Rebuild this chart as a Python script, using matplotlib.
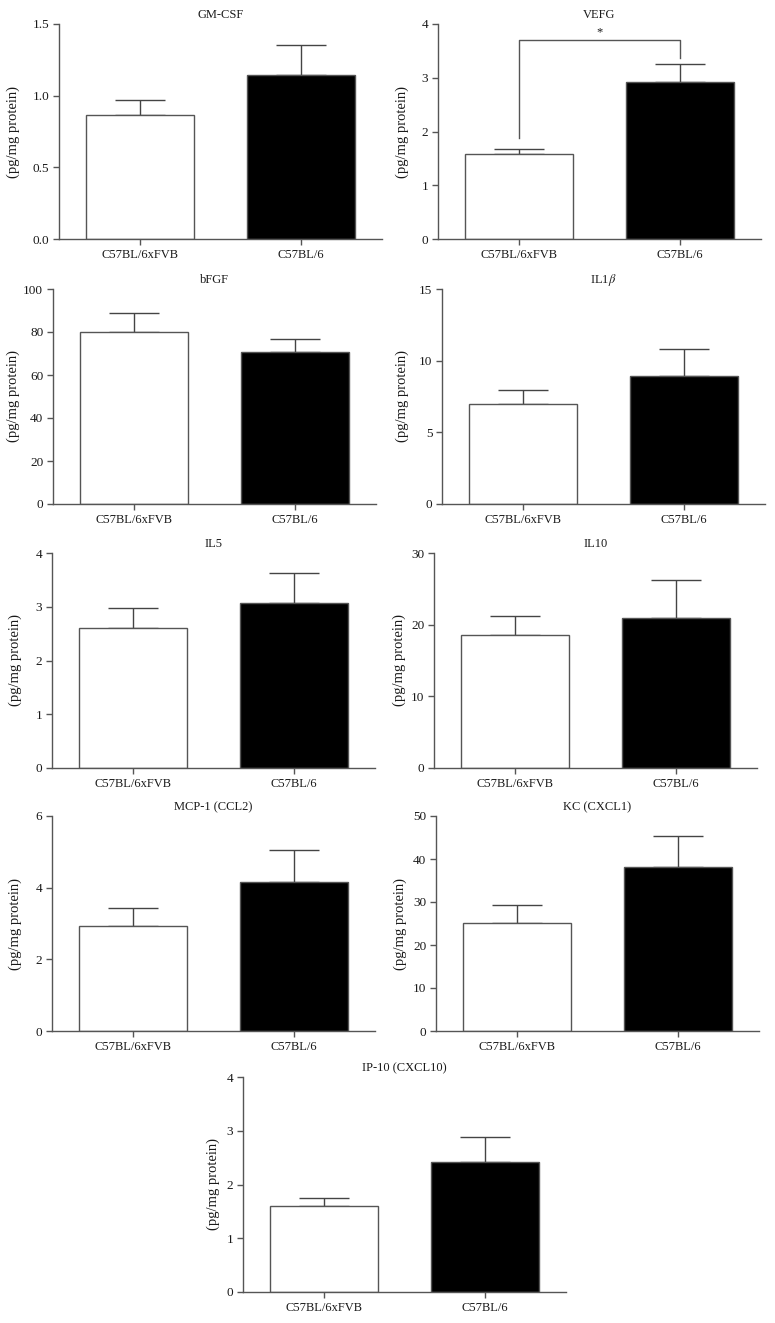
import numpy as np
import matplotlib
matplotlib.use('Agg')
import matplotlib.pyplot as plt

plt.rcParams['font.family'] = ['Liberation Serif', 'DejaVu Serif']
plt.rcParams['mathtext.fontset'] = 'stix'

groups = ['C57BL/6xFVB', 'C57BL/6']
titles = ['GM-CSF', 'VEFG', 'bFGF', r'IL1$\beta$', 'IL5', 'IL10',
          'MCP-1 (CCL2)', 'KC (CXCL1)', 'IP-10 (CXCL10)']

# mean and upper error (mean + SEM)
means = [[0.867, 1.142], [1.58, 2.92], [80.0, 70.8], [6.95, 8.92], [2.60, 3.07],
         [18.55, 20.87], [2.93, 4.15], [25.1, 38.2], [1.60, 2.41]]
tops = [[0.972, 1.356], [1.68, 3.25], [88.9, 76.8], [7.95, 10.78], [2.98, 3.62],
        [21.2, 26.26], [3.42, 5.04], [29.2, 45.3], [1.74, 2.88]]
yticks = [[0, 0.5, 1.0, 1.5], [0, 1, 2, 3, 4], [0, 20, 40, 60, 80, 100], [0, 5, 10, 15],
          [0, 1, 2, 3, 4], [0, 10, 20, 30], [0, 2, 4, 6], [0, 10, 20, 30, 40, 50],
          [0, 1, 2, 3, 4]]

# VEFG significance bracket
sig_y = 3.70
sig_legs = [1.88, 3.36]

W, H = 775, 1323
fig = plt.figure(figsize=(W / 100, H / 100), dpi=100)

# layout in pixels: spine x, top y, right edge of the y label
lefts = [59, 438, 53, 442, 52, 434, 52, 436, 243]
row_tops = [24, 289, 553, 816, 1077]
rows = [0, 0, 1, 1, 2, 2, 3, 3, 4]
label_x = [20, 409, 20, 409, 22, 406, 22, 407, 220]
ax_w, ax_h = 323, 215

axcol = '#555555'
txtcol = '#1a1a1a'

for i in range(9):
    top = row_tops[rows[i]]
    ax = fig.add_axes([lefts[i] / W, 1 - (top + ax_h) / H, ax_w / W, ax_h / H])
    x = np.arange(2)
    m = np.array(means[i])
    err = np.array(tops[i]) - m
    ax.errorbar(x, m, yerr=[np.zeros(2), err], fmt='none', ecolor='#444444',
                elinewidth=1, capsize=18, capthick=1, zorder=1)
    ax.bar(x, m, width=0.667, color=['white', 'black'], edgecolor=axcol,
           linewidth=1, zorder=2)
    ax.set_xlim(-0.5, 1.5)
    ax.set_ylim(0, yticks[i][-1])
    ax.set_yticks(yticks[i])
    if i == 0:
        ax.set_yticklabels(['%.1f' % v for v in yticks[i]])
    ax.set_xticks(x)
    ax.set_xticklabels(groups)
    for s in ['top', 'right']:
        ax.spines[s].set_visible(False)
    for s in ['left', 'bottom']:
        ax.spines[s].set_color(axcol)
        ax.spines[s].set_linewidth(1)
    ax.tick_params(axis='both', colors=axcol, labelcolor=txtcol,
                   length=4, width=1, pad=3)
    ax.tick_params(axis='x', labelsize=9)
    ax.tick_params(axis='y', labelsize=9.5)
    ax.set_title(titles[i], fontsize=9, pad=4, color=txtcol)
    ax.set_ylabel('(pg/mg protein)', fontsize=10.5, color=txtcol)
    ax.yaxis.set_label_coords((label_x[i] - lefts[i]) / ax_w, 0.5)

    if i == 1:
        ax.plot([0, 0, 1, 1], [sig_legs[0], sig_y, sig_y, sig_legs[1]],
                color=axcol, linewidth=1, zorder=3)
        ax.text(0.5, sig_y + 0.03, '*', ha='center', va='bottom', fontsize=9,
                color=txtcol)

fig.savefig('out.png', dpi=100)
